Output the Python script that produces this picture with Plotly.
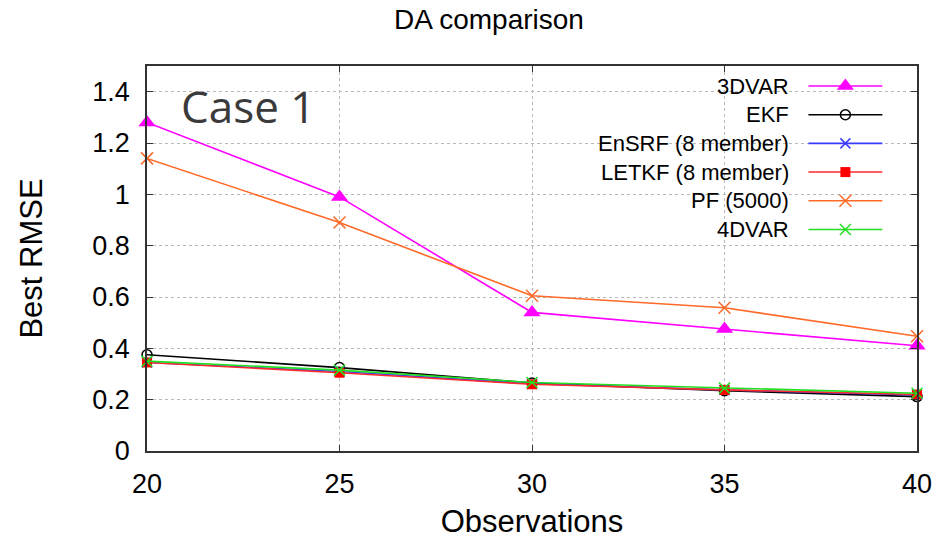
import plotly.graph_objects as go

# Observation counts and best RMSE per data-assimilation method
observations = [20, 25, 30, 35, 40]
rmse_3dvar = [1.28, 0.99, 0.54, 0.475, 0.41]
rmse_ekf = [0.375, 0.325, 0.265, 0.235, 0.212]
rmse_ensrf = [0.345, 0.31, 0.262, 0.238, 0.218]
rmse_letkf = [0.345, 0.305, 0.26, 0.238, 0.22]
rmse_pf = [1.14, 0.89, 0.605, 0.558, 0.447]
rmse_4dvar = [0.35, 0.315, 0.267, 0.245, 0.225]

y_ticks = [0, 0.2, 0.4, 0.6, 0.8, 1, 1.2, 1.4]
y_tick_text = ["0", "0.2", "0.4", "0.6", "0.8", "1", "1.2", "1.4"]

series = [
    ("3DVAR", rmse_3dvar, "#ff00ff", dict(symbol="triangle-up", size=15, color="#ff00ff")),
    ("EKF", rmse_ekf, "#000000", dict(symbol="circle-open", size=10, color="#000000", line=dict(width=1.5))),
    ("EnSRF (8 member)", rmse_ensrf, "#3a3aff", dict(symbol="x-thin-open", size=10, color="#3a3aff", line=dict(width=1.5, color="#3a3aff"))),
    ("LETKF (8 member)", rmse_letkf, "#ff2a2a", dict(symbol="square", size=10, color="#ff0000")),
    ("PF (5000)", rmse_pf, "#ff6a28", dict(symbol="x-thin-open", size=12, color="#ff6a28", line=dict(width=1.5, color="#ff6a28"))),
    ("4DVAR", rmse_4dvar, "#22e022", dict(symbol="x-thin-open", size=11, color="#22e022", line=dict(width=1.5, color="#22e022"))),
]

fig = go.Figure()

# One line+marker trace per method
for name, values, color, marker in series:
    fig.add_trace(go.Scatter(
        x=observations, y=values, mode="lines+markers", name=name,
        line=dict(color=color, width=1.6), marker=marker,
        cliponaxis=False, showlegend=False, xaxis="x", yaxis="y",
    ))

# Key drawn inside the plot: text right-aligned, sample line + symbol to the right
key_top = 0.948
key_step = 0.0745
key_text_x = 0.836
key_line = [0.859, 0.955]
key_mark_x = 0.907
for i, (name, values, color, marker) in enumerate(series):
    ky = key_top - i * key_step
    fig.add_annotation(
        x=key_text_x, y=ky, xref="paper", yref="paper", text=name,
        showarrow=False, xanchor="right", yanchor="middle",
        font=dict(family="Liberation Sans, Arial, sans-serif", size=22, color="#000000"),
    )
    fig.add_trace(go.Scatter(
        x=key_line, y=[ky, ky], mode="lines", line=dict(color=color, width=1.6),
        showlegend=False, hoverinfo="skip", xaxis="x2", yaxis="y2", cliponaxis=False,
    ))
    fig.add_trace(go.Scatter(
        x=[key_mark_x], y=[ky], mode="markers", marker=marker,
        showlegend=False, hoverinfo="skip", xaxis="x2", yaxis="y2", cliponaxis=False,
    ))

# Opaque key background over the grid
fig.add_shape(type="rect", xref="paper", yref="paper", x0=0.58, x1=0.975, y0=0.54, y1=0.985,
              fillcolor="white", line=dict(width=0), layer="between")

fig.add_annotation(
    x=0.042, y=0.897, xref="paper", yref="paper", text="Case 1", showarrow=False,
    xanchor="left", yanchor="middle",
    font=dict(family="Open Sans, Noto Sans, sans-serif", size=44, color="#3a3a3a"),
)

axis_font = dict(family="Liberation Sans, Arial, sans-serif", size=27, color="#000000")
title_font = dict(family="Liberation Sans, Arial, sans-serif", size=31, color="#000000")
fig.update_layout(
    width=936, height=539,
    margin=dict(l=147, r=19, t=66, b=88),
    paper_bgcolor="white", plot_bgcolor="white",
    title=dict(text="DA comparison", x=489 / 936, xref="container", xanchor="center", y=0.965, yanchor="middle",
               font=dict(family="Liberation Sans, Arial, sans-serif", size=28, color="#000000")),
    xaxis=dict(
        range=[20, 40], tickvals=observations, ticktext=[str(v) for v in observations],
        ticks="inside", ticklen=6, tickcolor="#333333", showline=True, linecolor="#333333",
        linewidth=1.5, mirror="allticks", showgrid=True, gridcolor="#b8b8b8", griddash="dot",
        gridwidth=1, zeroline=False, tickfont=axis_font, ticklabelstandoff=8, automargin=False,
        title=dict(text="Observations", font=title_font, standoff=12),
    ),
    yaxis=dict(
        range=[0, 1.5], tickvals=y_ticks, ticktext=y_tick_text,
        ticks="inside", ticklen=6, tickcolor="#333333", showline=True, linecolor="#333333",
        linewidth=1.5, mirror="allticks", showgrid=True, gridcolor="#b8b8b8", griddash="dot",
        gridwidth=1, zeroline=False, tickfont=axis_font, ticklabelstandoff=10, automargin=False,
        title=dict(text="Best RMSE", font=title_font, standoff=40),
    ),
    xaxis2=dict(range=[0, 1], overlaying="x", visible=False, fixedrange=True),
    yaxis2=dict(range=[0, 1], overlaying="y", visible=False, fixedrange=True),
)

fig.write_html("out.html")
